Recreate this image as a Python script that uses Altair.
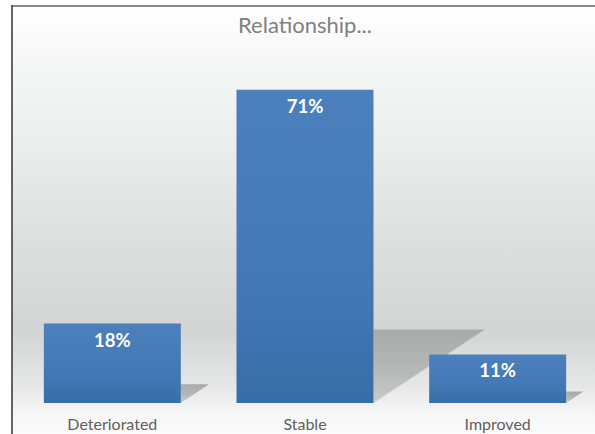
import altair as alt
import pandas as pd

CATEGORIES = ["Deteriorated", "Stable", "Improved"]
VALUES = [18, 71, 11]
LABELS = ["18%", "71%", "11%"]
TITLE = "Relationship..."

HALF = 0.3555        # half bar width in slot units
SH_H = 0.235         # shadow height relative to bar value
SH_W = 0.00813       # shadow reach (slot units per % point)

idx = list(range(len(CATEGORIES)))
bars = pd.DataFrame({
    "cat": CATEGORIES,
    "v": VALUES,
    "label": LABELS,
    "x0": [i + 0.5 - HALF for i in idx],
    "x1": [i + 0.5 + HALF for i in idx],
    "xc": [i + 0.5 for i in idx],
    "zero": [0] * len(idx),
})

rows = []
for i, v in zip(idx, VALUES):
    r = i + 0.5 + HALF
    rows.append({"bar": i, "sx": r, "top": SH_H * v, "bot": 0.0})
    rows.append({"bar": i, "sx": r + SH_W * v, "top": SH_H * v, "bot": SH_H * v})
shadow = pd.DataFrame(rows)

xs = alt.Scale(domain=[0, 3], nice=False, zero=False)
ys = alt.Scale(domain=[0, 80], nice=False)

one = pd.DataFrame({"a": [0]})

bg_grad = alt.Gradient(
    gradient="linear", x1=0, x2=0, y1=0, y2=1,
    stops=[
        alt.GradientStop(color="#ffffff", offset=0),
        alt.GradientStop(color="#f6f7f7", offset=0.12),
        alt.GradientStop(color="#ebecec", offset=0.33),
        alt.GradientStop(color="#dcdddd", offset=0.57),
        alt.GradientStop(color="#d3d4d4", offset=0.76),
        alt.GradientStop(color="#e6e7e7", offset=0.89),
        alt.GradientStop(color="#f6f6f6", offset=0.95),
        alt.GradientStop(color="#fbfbfb", offset=1),
    ],
)

bg = alt.Chart(one).mark_rect(fill=bg_grad).encode(
    x=alt.value(-4), x2=alt.value(580), y=alt.value(-43), y2=alt.value(384)
)
top_line = alt.Chart(one).mark_rule(color="#8c8c8c", strokeWidth=2).encode(
    x=alt.value(-4), x2=alt.value(580), y=alt.value(-44)
)
left_line = alt.Chart(one).mark_rule(color="#333333", strokeWidth=1.5).encode(
    x=alt.value(-4), y=alt.value(-45), y2=alt.value(384)
)

sh_grad = alt.Gradient(
    gradient="linear", x1=0, x2=0, y1=0, y2=1,
    stops=[
        alt.GradientStop(color="#a9aaaa", offset=0),
        alt.GradientStop(color="#b4b5b5", offset=0.5),
        alt.GradientStop(color="#c9caca", offset=1),
    ],
)
shadows = alt.Chart(shadow).mark_area(color=sh_grad, opacity=1).encode(
    x=alt.X("sx:Q", scale=xs, axis=None),
    y=alt.Y("top:Q", scale=ys, axis=None),
    y2="bot:Q",
    detail="bar:N",
)

bar_grad = alt.Gradient(
    gradient="linear", x1=0, x2=0, y1=0, y2=1,
    stops=[
        alt.GradientStop(color="#4b80bd", offset=0),
        alt.GradientStop(color="#4479b5", offset=0.6),
        alt.GradientStop(color="#366ea8", offset=1),
    ],
)
bar_layer = alt.Chart(bars).mark_rect(fill=bar_grad).encode(
    x=alt.X("x0:Q", scale=xs, axis=None),
    x2="x1:Q",
    y=alt.Y("v:Q", scale=ys, axis=None),
    y2="zero:Q",
)

value_text = alt.Chart(bars).mark_text(
    font="Lato", fontSize=18.5, fontWeight="bold", color="white", baseline="middle", dy=17
).encode(
    x=alt.X("xc:Q", scale=xs, axis=None),
    y=alt.Y("v:Q", scale=ys, axis=None),
    text="label:N",
)

cat_text = alt.Chart(bars).mark_text(
    font="Lato", fontSize=16, color="#5f5f5f", baseline="middle", dy=22
).encode(
    x=alt.X("xc:Q", scale=xs, axis=None),
    y=alt.Y("zero:Q", scale=ys, axis=None),
    text="cat:N",
)

title = alt.Chart(pd.DataFrame({"t": [TITLE]})).mark_text(
    font="Lato", fontSize=22, color="#7f7f7f", baseline="alphabetic"
).encode(x=alt.value(289), y=alt.value(-17), text="t:N")

chart = alt.layer(
    bg, top_line, left_line, shadows, bar_layer, value_text, cat_text, title
).properties(
    width=578, height=353,
    autosize=alt.AutoSizeParams(type="none"),
    padding={"left": 16, "top": 50, "right": 1, "bottom": 31},
    background="white",
).configure_view(stroke=None)

chart.save("out.html", embed_options={"renderer": "svg", "actions": False})
